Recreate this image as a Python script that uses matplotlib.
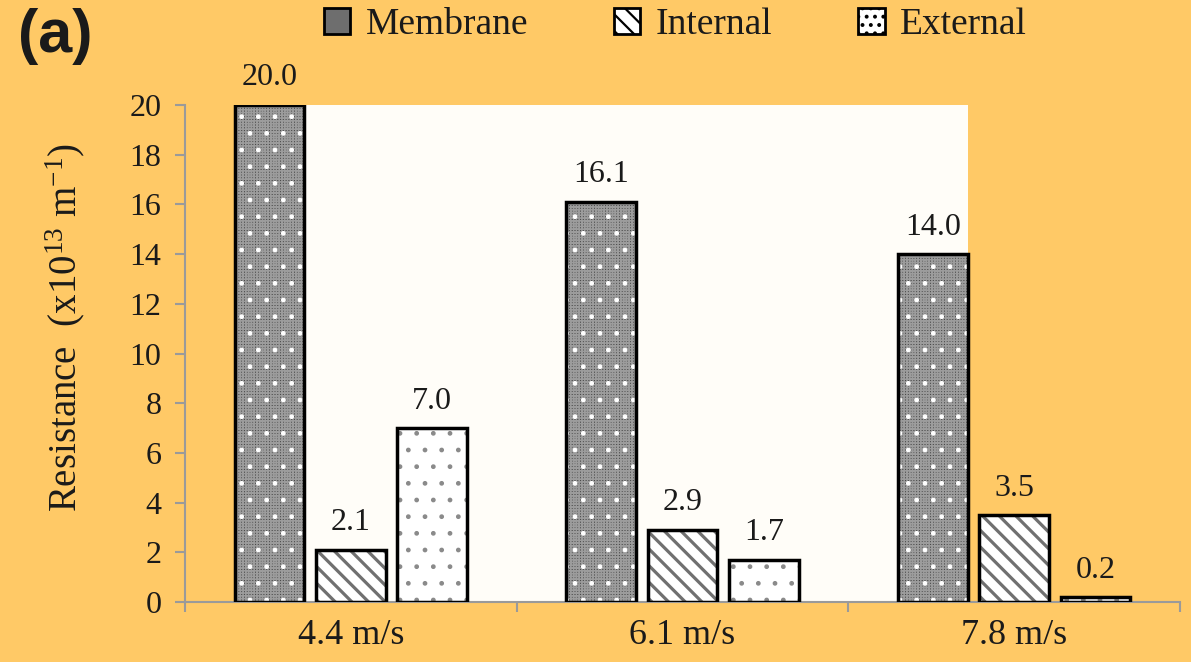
import numpy as np
import matplotlib
matplotlib.use("Agg")
import matplotlib.pyplot as plt
from matplotlib.patches import Patch

plt.rcParams["font.family"] = ["Liberation Serif", "DejaVu Serif"]
plt.rcParams["mathtext.fontset"] = "custom"
plt.rcParams["mathtext.rm"] = "Liberation Serif"
plt.rcParams["mathtext.it"] = "Liberation Serif:italic"
plt.rcParams["hatch.linewidth"] = 1.6

# resistance components (x10^13 m^-1) at each cross-flow velocity
velocities = ["4.4 m/s", "6.1 m/s", "7.8 m/s"]
membrane = [20.0, 16.1, 14.0]
internal = [2.1, 2.9, 3.5]
external = [7.0, 1.7, 0.2]

BG = "#FFC966"
TXT = "#1a1a1a"
AXC = "#9a9a9a"

fig = plt.figure(figsize=(11.91, 6.62), dpi=100, facecolor=BG)
ax = fig.add_axes([0.1553, 0.0906, 0.8355, 0.7508])
ax.set_facecolor(BG)

x = np.arange(len(velocities))
w = 0.21
step = 0.245

# pale panel between the first and last membrane bars
ax.axvspan(x[0] - step + w / 2, x[2] - step + w / 2, ymin=0, ymax=1,
           color="#FFFDF8", lw=0, zorder=0)

styles = [
    # (values, label, face, legend face, legend hatch, hatch layers)
    (membrane, "Membrane", "#4a4a4a", "#6e6e6e", "",
     [("++++++", "#9c9c9c", 1.2), (".", "white", 1.0)]),
    (internal, "Internal", "white", "white", "\\\\",
     [("\\\\", "#707070", 2.3)]),
    (external, "External", "white", "white", "..",
     [(".", "#8a8a8a", 1.0)]),
]

handles = []
for i, (vals, label, face, lface, lhatch, layers) in enumerate(styles):
    pos = x + (i - 1) * step
    ax.bar(pos, vals, w, color=face, lw=0, zorder=2)
    for hatch, hc, hlw in layers:
        with plt.rc_context({"hatch.linewidth": hlw}):
            ax.bar(pos, vals, w, fill=False, hatch=hatch, edgecolor=hc, lw=0, zorder=3)
    ax.bar(pos, vals, w, fill=False, edgecolor="black", lw=2.5, zorder=4)
    for p, v in zip(pos, vals):
        ax.annotate(f"{v:.1f}", (p, v), xytext=(0, 9), textcoords="offset points",
                    ha="center", va="bottom", fontsize=23, color=TXT)
    with plt.rc_context({"hatch.linewidth": 1.0}):
        handles.append(Patch(facecolor=lface, edgecolor="black", hatch=lhatch,
                             lw=2, label=label))

ax.set_xlim(-0.5, 2.5)
ax.set_ylim(0, 20)
ax.set_yticks(np.arange(0, 21, 2))
ax.set_xticks(x)
ax.set_xticklabels(velocities)
ax.set_xticks(np.arange(-0.5, 2.6, 1), minor=True)
ax.tick_params(axis="x", which="major", length=0, pad=12, labelsize=26, labelcolor=TXT)
ax.tick_params(axis="x", which="minor", length=7, width=1.5, color=AXC, direction="out")
ax.tick_params(axis="y", length=7, width=1.5, color=AXC, direction="out",
               pad=10, labelsize=23, labelcolor=TXT)

for s in ("top", "right"):
    ax.spines[s].set_visible(False)
for s in ("left", "bottom"):
    ax.spines[s].set_color(AXC)
    ax.spines[s].set_linewidth(1.5)

ax.set_ylabel(r"Resistance  (x10$^{\mathrm{13}}$ m$^{\mathrm{-1}}$)",
              fontsize=28, color=TXT)
ax.yaxis.set_label_coords(-0.098, 0.553)

fig.legend(handles=handles, loc="center", bbox_to_anchor=(0.567, 0.962),
           ncol=3, frameon=False, fontsize=27, handlelength=0.7, handleheight=0.7,
           handletextpad=0.4, columnspacing=2.3, labelcolor=TXT)

fig.text(0.015, 0.945, "(a)", family="Liberation Sans", weight="bold",
         fontsize=44, color=TXT, ha="left", va="center")

fig.savefig("out.png", dpi=100, facecolor=BG)
